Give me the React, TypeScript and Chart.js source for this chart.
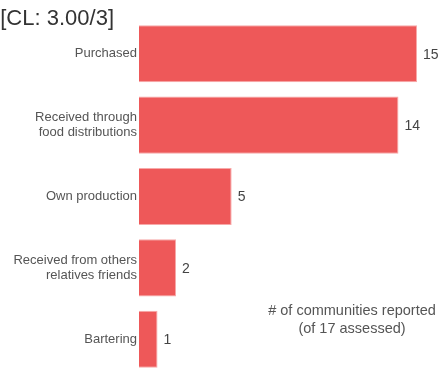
import React, { useEffect, useRef } from "react";
import { Chart, registerables } from "chart.js";

Chart.register(...registerables);

const categories: (string | string[])[] = [
  "Purchased",
  ["Received through", "food distributions"],
  "Own production",
  ["Received from others", "relatives friends"],
  "Bartering",
];
const values: number[] = [15, 14, 5, 2, 1];
const titleText = "[CL: 3.00/3]";
const noteLines = ["# of communities reported", "(of 17 assessed)"];

const FONT = "'Liberation Sans', Arial, sans-serif";

const overlayPlugin = {
  id: "overlay",
  afterDatasetsDraw(chart: any) {
    const ctx = chart.ctx;
    const meta = chart.getDatasetMeta(0);
    ctx.save();
    ctx.font = `14px ${FONT}`;
    ctx.fillStyle = "#444";
    ctx.textAlign = "left";
    ctx.textBaseline = "middle";
    meta.data.forEach((bar: any, i: number) => {
      ctx.fillText(String(values[i]), bar.x + 6, bar.y + 1);
    });
    ctx.restore();
  },
  afterDraw(chart: any) {
    const ctx = chart.ctx;
    ctx.save();
    ctx.font = `22px ${FONT}`;
    ctx.fillStyle = "#333";
    ctx.textAlign = "right";
    ctx.textBaseline = "alphabetic";
    ctx.fillText(titleText, 114, 25);
    ctx.font = `14.5px ${FONT}`;
    ctx.fillStyle = "#555";
    ctx.textAlign = "center";
    ctx.textBaseline = "middle";
    noteLines.forEach((l, i) => ctx.fillText(l, 352, 311 + i * 18));
    ctx.restore();
  },
};

export default function App() {
  const ref = useRef<HTMLCanvasElement>(null);
  useEffect(() => {
    const chart = new Chart(ref.current!, {
      type: "bar",
      data: {
        labels: categories,
        datasets: [
          {
            data: values,
            backgroundColor: "#EE5859",
            borderColor: "#F7A9A9",
            borderWidth: 1,
            categoryPercentage: 0.8,
            barPercentage: 1,
          },
        ],
      },
      options: {
        indexAxis: "y",
        animation: false,
        responsive: false,
        maintainAspectRatio: false,
        layout: { padding: { top: 18, bottom: 20, right: 22, left: 0 } },
        plugins: {
          legend: { display: false },
          tooltip: { enabled: false },
          title: { display: false },
        },
        scales: {
          x: { display: false, min: 0, max: 15 },
          y: {
            grid: { display: false, drawTicks: false },
            border: { display: false },
            ticks: {
              padding: 2,
              color: "#555",
              font: { family: FONT, size: 13, lineHeight: 1.2 },
            },
            afterFit(scale: any) {
              scale.width = 139;
            },
          },
        },
      },
      plugins: [overlayPlugin],
    });
    return () => chart.destroy();
  }, []);
  return (
    <canvas
      ref={ref}
      width={439}
      height={395}
      style={{ position: "absolute", left: 0, top: 0, width: 439, height: 395 }}
    />
  );
}
